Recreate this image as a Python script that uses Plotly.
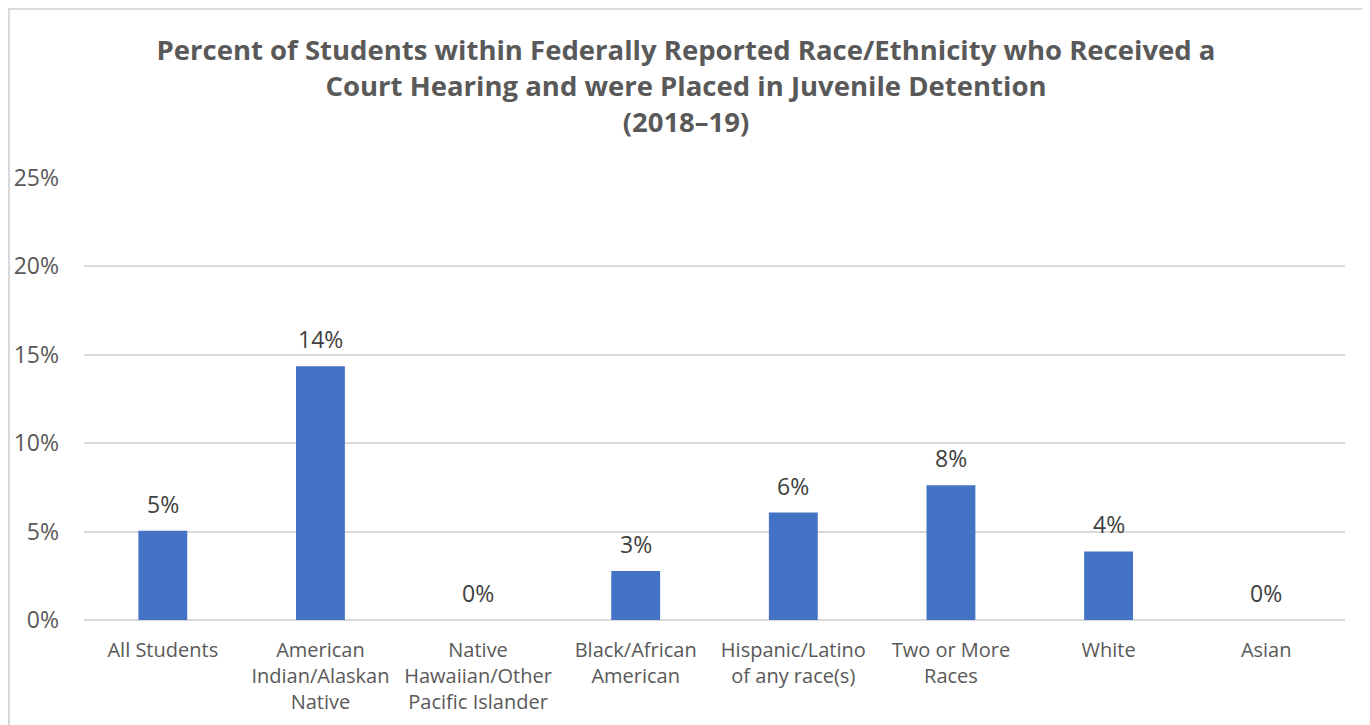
import plotly.graph_objects as go

categories = [
    "All Students",
    "American<br>Indian/Alaskan<br>Native",
    "Native<br>Hawaiian/Other<br>Pacific Islander",
    "Black/African<br>American",
    "Hispanic/Latino<br>of any race(s)",
    "Two or More<br>Races",
    "White",
    "Asian",
]
values = [0.0505, 0.1435, 0.0, 0.0277, 0.0608, 0.0762, 0.0388, 0.0]
y_ticks = [0, 0.05, 0.10, 0.15, 0.20, 0.25]

# page body has an 8px margin, so figure coords = screen coords - 8
W, H = 1362, 717
L, R, T, B = 76, 1337, 170, 612
pw, ph = R - L, B - T

def px(x):
    return (x - L) / pw

def py(y):
    return (B - y) / ph

text_color = "#595959"
font_family = "Open Sans, Noto Sans, sans-serif"

fig = go.Figure(
    go.Bar(
        x=categories,
        y=values,
        marker=dict(color="#4472C4", line=dict(width=0)),
        hoverinfo="x+y",
    )
)

for c, v in zip(categories, values):
    fig.add_annotation(
        x=c, y=v, xref="x", yref="y",
        text=f"{v:.0%}",
        showarrow=False,
        yanchor="bottom",
        yshift=9,
        font=dict(size=23, color="#404040", family=font_family),
    )

fig.update_layout(
    width=W,
    height=H,
    margin=dict(l=L, r=W - R, t=T, b=H - B, autoexpand=False),
    paper_bgcolor="white",
    plot_bgcolor="white",
    bargap=0.69,
    showlegend=False,
    title=dict(
        text="Percent of Students within Federally Reported Race/Ethnicity who Received a<br>"
             "Court Hearing and were Placed in Juvenile Detention<br>(2018–19)",
        x=px(686 - 8),
        xanchor="center",
        xref="paper",
        y=1 - 52 / H,
        yanchor="top",
        font=dict(size=27.5, color=text_color, family=font_family, weight="bold"),
    ),
    font=dict(family=font_family, color=text_color),
    shapes=[
        dict(
            type="rect",
            xref="paper", yref="paper",
            x0=px(1), x1=px(1358), y0=py(740), y1=py(1),
            line=dict(color="#d9d9d9", width=2),
            fillcolor="rgba(0,0,0,0)",
            layer="below",
        )
    ],
)

fig.update_xaxes(
    automargin=False,
    showline=False,
    showgrid=False,
    ticks="",
    ticklabelstandoff=16,
    tickfont=dict(size=20, color=text_color, family=font_family),
    fixedrange=True,
)
fig.update_yaxes(
    automargin=False,
    range=[0, 0.25],
    tickvals=y_ticks,
    tickformat=".0%",
    showgrid=True,
    gridcolor="#d9d9d9",
    gridwidth=1.5,
    zeroline=True,
    zerolinecolor="#d9d9d9",
    zerolinewidth=1.5,
    showline=False,
    ticks="",
    ticklabelstandoff=24,
    tickfont=dict(size=23, color=text_color, family=font_family),
    fixedrange=True,
)

fig.write_html("out.html")
